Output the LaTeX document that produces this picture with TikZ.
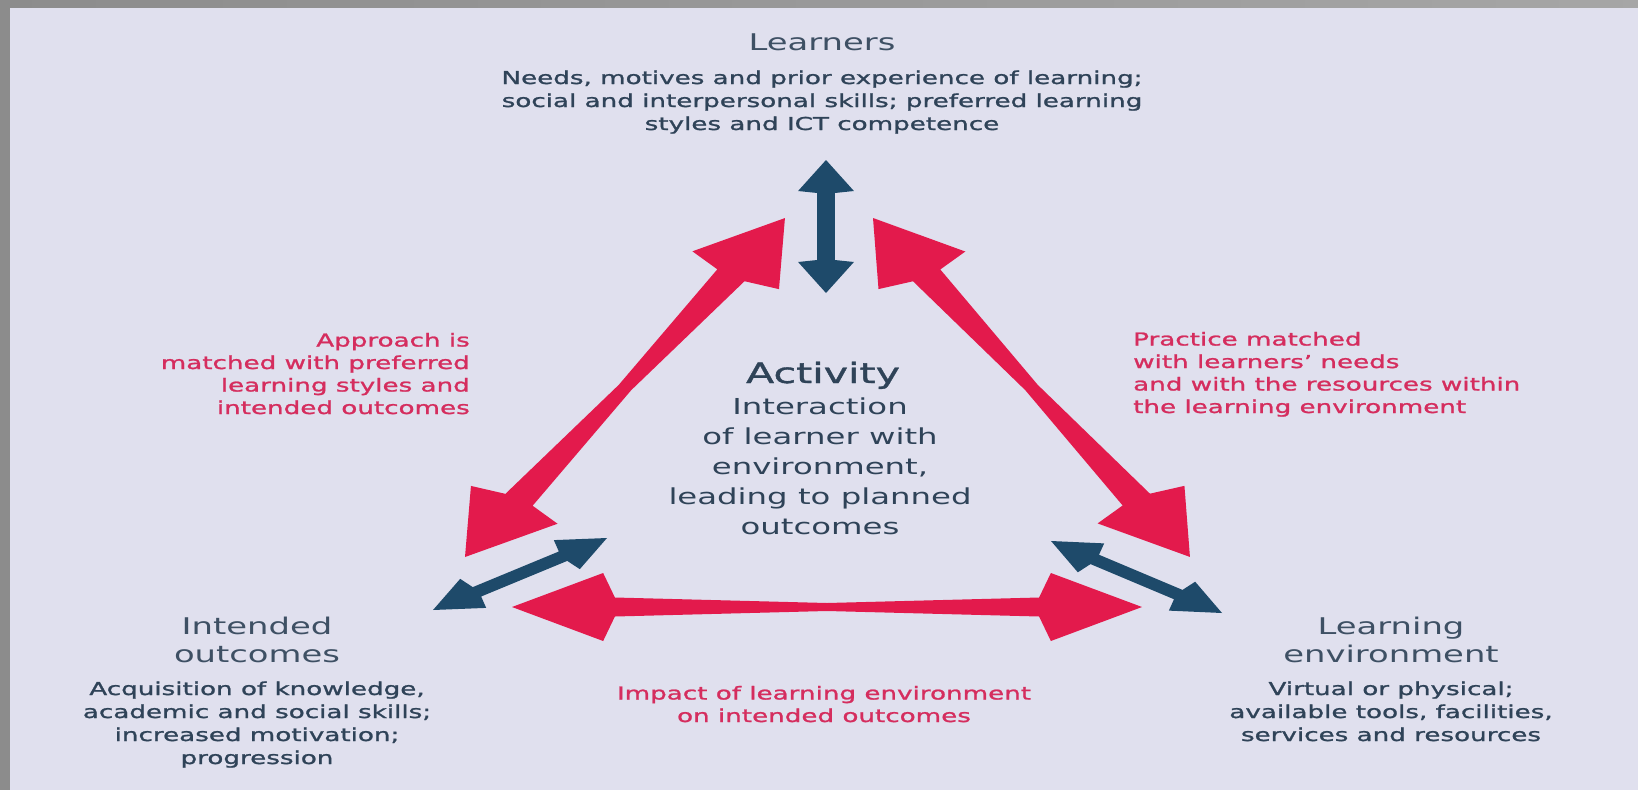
\documentclass[tikz,border=0pt]{standalone}
\usepackage{fontspec}
\setmainfont{DejaVu Sans}[FakeStretch=1.47]
\newfontfamily\descfont{DejaVu Sans}[FakeStretch=1.47,FakeBold=1.3]
\definecolor{panel}{HTML}{E0E0EE}
\definecolor{frame}{HTML}{8C8C8C}
\definecolor{redA}{HTML}{E31A4C}
\definecolor{blueA}{HTML}{1E4A6A}
\definecolor{txt}{HTML}{2F4358}
\definecolor{ttl}{HTML}{3E5064}
\definecolor{redT}{HTML}{D52D5E}
% double-headed tapered arrow, drawn in unstretched space then stretched horizontally
% #1 colour, #2 x1, #3 y1, #4 x2, #5 y2, #6 head length, #7 head half-width, #8 notch, #9 shaft half-width at notch; \smid = half-width at middle
\newcommand\dblarrow[9]{%
  \pgfmathsetmacro\ax{#2/1.47}\pgfmathsetmacro\ay{#3}%
  \pgfmathsetmacro\bx{#4/1.47}\pgfmathsetmacro\by{#5}%
  \pgfmathsetmacro\aL{veclen(\bx-\ax,\by-\ay)}%
  \pgfmathsetmacro\aang{atan2(\ay-\by,\bx-\ax)}%
  \begin{scope}[xscale=1.47]
  \begin{scope}[shift={(\ax,\ay)},rotate=\aang]
    \fill[#1] (0,0) -- (#6,#7) -- (#8,#9) -- (\aL/2,\smid) -- (\aL-#8,#9) -- (\aL-#6,#7)
      -- (\aL,0) -- (\aL-#6,-#7) -- (\aL-#8,-#9) -- (\aL/2,-\smid) -- (#8,-#9) -- (#6,-#7) -- cycle;
  \end{scope}
  \end{scope}}
\tikzset{
  ttlnode/.style={font=\fontsize{23}{28}\selectfont, text=ttl, align=center, inner sep=0pt, anchor=base},
  descnode/.style={font=\descfont\fontsize{17.8}{23}\selectfont, text=txt, align=center, inner sep=0pt, anchor=base},
  rednode/.style={font=\descfont\fontsize{17.8}{22.5}\selectfont, text=redT, inner sep=0pt},
  midnode/.style={font=\fontsize{22}{29.8}\selectfont, text=txt, align=center, inner sep=0pt, anchor=base},
}
\begin{document}
\begin{tikzpicture}[x=1pt,y=-1pt]
\useasboundingbox (0,0) rectangle (1638,790);
\fill[frame] (0,0) rectangle (1638,790);
\shade[left color=frame, right color=gray!70] (0,0) rectangle (1638,8);
\fill[panel] (10,8) rectangle (1638,790);

% arrows
\def\smid{5}
\dblarrow{redA}{465}{557}{785}{218}{62}{35}{68}{11}
\dblarrow{redA}{873}{218}{1190}{557}{62}{35}{68}{11}
\def\smid{4}
\dblarrow{redA}{512}{607}{1142}{607}{62}{34}{70}{9.5}
\def\smid{6}
\dblarrow{blueA}{826}{160}{826}{293}{31}{19}{33}{6}
\def\smid{5.5}
\dblarrow{blueA}{433}{610}{607}{538}{32}{17}{35}{5.5}
\dblarrow{blueA}{1051}{541}{1222}{613}{32}{17}{35}{5.5}

% Learners (base anchor = baseline of last line)
\node[ttlnode] (learners) at (822,50) {Learners};
\node[descnode] (learnersd) at (822,130) {Needs, motives and prior experience of learning;\\ social and interpersonal skills; preferred learning\\ styles and ICT competence};

% side labels
\node[rednode, anchor=base east, align=right] (approach) at (470,414) {Approach is\\ matched with preferred\\ learning styles and\\ intended outcomes};
\node[rednode, anchor=base west, align=left] (practice) at (1133,413) {Practice matched\\ with learners’ needs\\ and with the resources within\\ the learning environment};

% Activity
\node[font=\descfont\fontsize{28}{32}\selectfont, text=txt, inner sep=0pt, anchor=base] (activity) at (823,383) {Activity};
\node[midnode] (interaction) at (820,534) {Interaction\\ of learner with\\ environment,\\ leading to planned\\ outcomes};

% Intended outcomes
\node[ttlnode] (intended) at (257,662) {Intended\\ outcomes};
\node[descnode] (intendedd) at (257,764) {Acquisition of knowledge,\\ academic and social skills;\\ increased motivation;\\ progression};

% Learning environment
\node[ttlnode] (env) at (1391,662) {Learning\\ environment};
\node[descnode] (envd) at (1391,741) {Virtual or physical;\\ available tools, facilities,\\ services and resources};

% Impact
\node[rednode, anchor=base, align=center] (impact) at (824,722) {Impact of learning environment\\ on intended outcomes};
\end{tikzpicture}
\end{document}
